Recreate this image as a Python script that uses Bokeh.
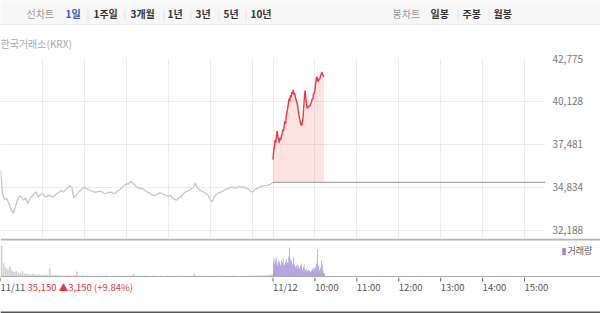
from bokeh.plotting import figure
from bokeh.layouts import column
from bokeh.models import Range1d, FixedTicker, Label, NumeralTickFormatter, Span
from bokeh.core.properties import value
from bokeh.embed import file_html
from bokeh.resources import INLINE

# ---------------- data ----------------
day1_step = 3  # minutes between day-1 samples
day1_price = [
    35900, 34450, 34100, 34150, 33850, 33500, 33250, 33600, 34050, 34300,
    34250, 34050, 34200, 33850, 34150, 34300, 34450, 34550, 34250, 34400,
    34450, 34300, 34250, 34350, 34300, 34250, 34350, 34450, 34550, 34650,
    34550, 34700, 34800, 34950, 34850, 34200, 34350, 34500, 34650, 34750,
    34850, 34750, 34700, 34650, 34600, 34550, 34550, 34600, 34600, 34500,
    34450, 34500, 34550, 34550, 34450, 34500, 34650, 34700, 34850, 34950,
    35050, 35050, 35200, 35100, 35000, 34850, 34800, 34750, 34750, 34650,
    34550, 34500, 34400, 34350, 34350, 34450, 34500, 34450, 34400, 34350,
    34300, 34350, 34200, 34100, 34050, 34200, 34250, 34400, 34550, 34600,
    34650, 34750, 34850, 35100, 34800, 34700, 34600, 34550, 34450, 34350,
    34100, 33950, 34250, 34400, 34500, 34550, 34600, 34700, 34750, 34800,
    34850, 34850, 34800, 34850, 34900, 34850, 34850, 34800, 34750, 34650,
    34550, 34650, 34750, 34800, 34900, 34900, 34950, 34950, 35000, 35050,
    35150,
]
day1_volume = [
    310, 130, 90, 70, 100, 60, 45, 55, 40, 35,
    50, 30, 30, 25, 20, 25, 20, 18, 20, 15,
    15, 20, 15, 80, 15, 12, 15, 12, 10, 12,
    10, 10, 12, 10, 10, 12, 50, 10, 10, 10,
    8, 7, 10, 8, 6, 10, 8, 9, 7, 8,
    10, 8, 6, 8, 9, 7, 8, 6, 8, 7,
    8, 9, 10, 25, 8, 7, 6, 8, 9, 7,
    8, 6, 7, 9, 8, 6, 7, 8, 6, 9,
    7, 8, 6, 8, 7, 9, 6, 8, 7, 6,
    8, 7, 30, 8, 6, 7, 8, 9, 6, 7,
    8, 6, 7, 8, 9, 6, 7, 8, 6, 7,
    8, 9, 7, 6, 8, 7, 6, 8, 9, 7,
    10, 9, 10, 12, 11, 12, 14, 15, 18, 25,
    30,
]
day2_price = [
    36550, 37100, 37400, 37750, 37600, 38050, 38300, 37950, 37800, 37600,
    37900, 37750, 38000, 38150, 38400, 38300, 38650, 38900, 38750, 39250,
    39500, 39700, 40000, 40300, 40150, 40500, 40400, 40700, 40600, 40850,
    40550, 40650, 40400, 40250, 40100, 39950, 39600, 39300, 39100, 38850,
    38700, 38650, 38900, 39100, 39800, 40450, 40800, 40300, 40000, 39700,
    39800, 39750, 39900, 39850, 40000, 40050, 40300, 40250, 40600, 40650,
    40800, 41200, 41550, 41650, 41400, 41350, 41550, 41500, 41700, 41800,
    41950, 41800, 41700, 41650,
]
day2_volume = [
    150, 180, 120, 160, 190, 140, 110, 170, 130, 150,
    120, 100, 160, 140, 180, 120, 110, 150, 130, 170,
    140, 120, 200, 290, 180, 140, 160, 110, 130, 190,
    120, 100, 90, 110, 80, 120, 100, 90, 70, 110,
    130, 80, 60, 90, 120, 70, 60, 80, 50, 60,
    70, 50, 60, 40, 50, 60, 70, 90, 60, 80,
    100, 70, 130, 270, 90, 110, 60, 80, 90, 160,
    120, 60, 40, 30,
]
prev_close = 35150
session_minutes = 390           # one trading day 09:00-15:30
y_ticks = [32188, 34834, 37481, 40128, 42775]
x_grid_ticks = [60, 120, 180, 240, 300, 360, 390, 450, 510, 570, 630, 690, 750]
x_tick_pos = [0, 390, 450, 510, 570, 630, 690, 750]
x_tick_labels = ["11/11", "11/12", "10:00", "11:00", "12:00", "13:00", "14:00", "15:00"]
info_text = "35,150 ▲3,150 (+9.84%)"

day1_t = [i * day1_step for i in range(len(day1_price))]
day2_t = [session_minutes + i for i in range(len(day2_price))]
day2_vt = [session_minutes + i + 0.5 for i in range(len(day2_volume))]

FONT = "Noto Sans CJK KR"
W = 600
PLOT_W = 545
x_range = Range1d(0, 2 * session_minutes)
x_range_full = Range1d(0, 2 * session_minutes * W / PLOT_W)


def strip(h, color, xr=None, yr=None):
    f = figure(width=W, height=h, output_backend="svg", toolbar_location=None,
               x_axis_type=None, y_axis_type=None, min_border=0, frame_align=False,
               x_range=xr if xr is not None else Range1d(0, W),
               y_range=yr if yr is not None else Range1d(0, h),
               background_fill_color=color, border_fill_color=color, outline_line_color=None)
    f.grid.visible = False
    return f


# ---------------- header ----------------
hdr = strip(25, "#f7f7f7")
hdr.add_layout(Span(location=0.5, dimension="width", line_color="#dddddd", line_width=1))
items = [
    ("선차트", 26, "#999999", "normal"), ("1일", 65, "#2d5bd2", "bold"), ("|", 86, "#dddddd", "normal"),
    ("1주일", 93, "#333333", "bold"), ("|", 123, "#dddddd", "normal"), ("3개월", 130, "#333333", "bold"),
    ("|", 162, "#dddddd", "normal"), ("1년", 167, "#333333", "bold"), ("|", 189, "#dddddd", "normal"),
    ("3년", 195, "#333333", "bold"), ("|", 217, "#dddddd", "normal"), ("5년", 223, "#333333", "bold"),
    ("|", 244, "#dddddd", "normal"), ("10년", 250, "#333333", "bold"),
    ("봉차트", 392, "#999999", "normal"), ("일봉", 430, "#333333", "bold"), ("|", 456, "#dddddd", "normal"),
    ("주봉", 462, "#333333", "bold"), ("|", 487, "#dddddd", "normal"), ("월봉", 493, "#333333", "bold"),
]
for txt, xx, col, sty in items:
    hdr.add_layout(Label(x=xx, y=12, x_units="screen", y_units="screen", text=txt,
                         text_color=col, text_font=FONT, text_font_style=sty,
                         text_font_size="10px", text_baseline="middle"))

# ---------------- sub header ----------------
sub = strip(25, "#ffffff")
sub.add_layout(Label(x=0, y=7, x_units="screen", y_units="screen", text="한국거래소(KRX)",
                     text_color="#aaaaaa", text_font=FONT, text_font_size="10px", text_baseline="middle"))

# ---------------- price ----------------
p = figure(width=W, height=188, x_range=x_range, y_range=Range1d(31694, 42775),
           output_backend="svg", toolbar_location=None, y_axis_location="right",
           min_border_left=0, min_border_right=W - PLOT_W, min_border_top=8, min_border_bottom=0,
           outline_line_color=None, frame_align=False)
p.xaxis.visible = False
p.xgrid.ticker = FixedTicker(ticks=x_grid_ticks)
p.xgrid.grid_line_color = "#ececec"
p.ygrid.ticker = FixedTicker(ticks=y_ticks)
p.ygrid.grid_line_color = "#ececec"
p.yaxis.ticker = FixedTicker(ticks=y_ticks)
p.yaxis.formatter = NumeralTickFormatter(format="0,0")
p.yaxis.axis_line_color = None
p.yaxis.major_tick_line_color = None
p.yaxis.major_tick_out = 0
p.yaxis.major_tick_in = 0
p.yaxis.minor_tick_line_color = None
p.yaxis.major_label_standoff = 7
p.yaxis.major_label_text_font = FONT
p.yaxis.major_label_text_font_size = "10px"
p.yaxis.major_label_text_color = "#777777"

p.varea(x=day2_t, y1=[prev_close] * len(day2_t), y2=day2_price, fill_color="#ff3b3b", fill_alpha=0.14)
p.line([session_minutes, 2 * session_minutes], [prev_close, prev_close], line_color="#a8a8a8", line_width=1.2)
p.line(day1_t, day1_price, line_color="#c6c6c6", line_width=1.3)
p.line(day2_t, day2_price, line_color="#f0373c", line_width=1.4)

# ---------------- volume (with separator line on top) ----------------
v = strip(39, "#ffffff", xr=x_range_full, yr=Range1d(-10, 380))
v.add_layout(Span(location=370, dimension="width", line_color="#b4b4b4", line_width=2))
v.add_layout(Span(location=0, dimension="width", line_color="#aaaaaa", line_width=1))
v.vbar(x=[t + day1_step / 2 for t in day1_t], top=day1_volume, width=2.4, bottom=0,
       fill_color="#d0d0d0", line_color=None)
v.vbar(x=day2_vt, top=day2_volume, width=0.9, bottom=0, fill_color="#9a83d4", line_color=None)
v.add_layout(Label(x=561, y=27, x_units="screen", y_units="screen", text="▮",
                   text_color="#9a83d4", text_font="DejaVu Sans", text_font_size="9px", text_baseline="middle"))
v.add_layout(Label(x=567, y=27, x_units="screen", y_units="screen", text="거래량",
                   text_color="#555555", text_font=FONT, text_font_size="9px", text_baseline="middle"))

# ---------------- footer (x ticks + labels + bottom line) ----------------
foot = strip(36, "#ffffff", xr=x_range_full, yr=Range1d(0, 36))
foot.add_layout(Span(location=1, dimension="width", line_color="#555555", line_width=2))
foot.segment(x0=x_tick_pos, y0=[36] * len(x_tick_pos), x1=x_tick_pos, y1=[32] * len(x_tick_pos),
             line_color="#666666", line_width=1)
foot.text(x=x_tick_pos, y=[27] * len(x_tick_pos), text=x_tick_labels,
          text_font=value(FONT), text_font_size="9.5px", text_color="#555555",
          text_align="left", text_baseline="middle")
foot.add_layout(Label(x=27, y=27, x_units="screen", y_units="screen", text=info_text,
                      text_color="#e8353b", text_font=FONT, text_font_size="9.5px", text_baseline="middle"))

layout = column(hdr, sub, p, v, foot, spacing=0)
open("out.html", "w").write(file_html(layout, INLINE))
